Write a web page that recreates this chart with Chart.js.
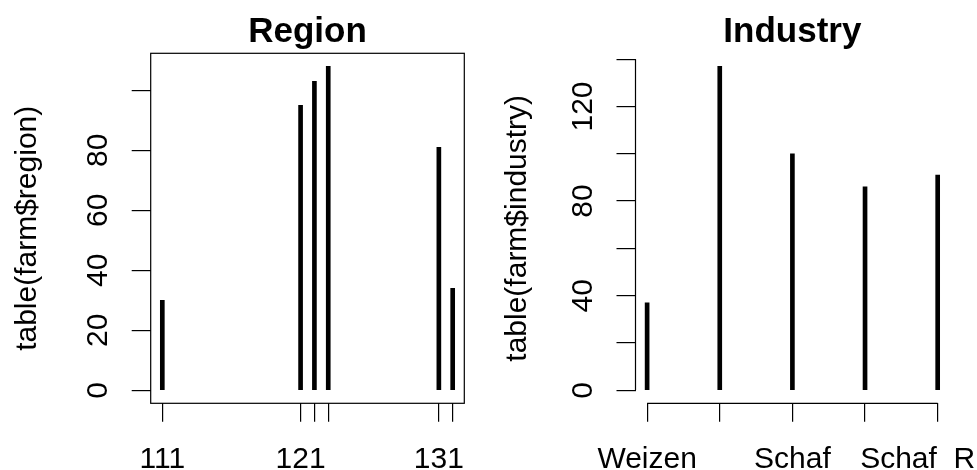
<!DOCTYPE html>
<html>
<head>
<meta charset="utf-8">
<script src="https://cdn.jsdelivr.net/npm/chart.js@4.4.0/dist/chart.umd.min.js"></script>
<style>
  html, body { margin: 0; padding: 0; background: #fff; overflow: hidden; }
  #wrap { position: relative; width: 977px; height: 470px; }
  .panel { position: absolute; top: 0; height: 470px; }
</style>
</head>
<body>
<div id="wrap">
  <div class="panel" style="left:0;width:489px"><canvas id="regionChart" width="489" height="470"></canvas></div>
  <div class="panel" style="left:489px;width:488px"><canvas id="industryChart" width="488" height="470"></canvas></div>
</div>
<script>
// left panel: counts per region code
const regionCodes = [111, 121, 122, 123, 131, 132];
const regionCounts = [30, 95, 103, 108, 81, 34];
const regionXLabels = ['111', '121', '', '', '131', ''];
const regionYTicks = [0, 20, 40, 60, 80, 100];
const regionYLabels = ['0', '20', '40', '60', '80', ''];

// right panel: counts per industry
const industryNames = ['Weizen', 'Gemischt', 'Schaf', 'Rind', 'Schaf  Rind'];
const industryCounts = [37, 137, 100, 86, 91];
const industryXLabels = ['Weizen', '', 'Schaf', '', 'Schaf  Rind'];
const industryYTicks = [0, 20, 40, 60, 80, 100, 120, 140];
const industryYLabels = ['0', '', '40', '', '80', '', '120', ''];

const FONT = '"Liberation Sans", Arial, Helvetica, sans-serif';

// R style axes: rotated y labels, titles, frame or short axis lines
const rStyle = {
  id: 'rStyle',
  afterDraw(chart, args, o) {
    const ctx = chart.ctx;
    const area = chart.chartArea;
    const xs = chart.scales.x;
    const ys = chart.scales.y;
    ctx.save();
    ctx.strokeStyle = '#000';
    ctx.fillStyle = '#000';
    ctx.lineWidth = 1.2;

    if (o.frame) {
      ctx.strokeRect(area.left, area.top, area.right - area.left, area.bottom - area.top);
    } else {
      ctx.beginPath();
      ctx.moveTo(area.left, ys.getPixelForValue(o.yTicks[0]));
      ctx.lineTo(area.left, ys.getPixelForValue(o.yTicks[o.yTicks.length - 1]));
      ctx.moveTo(xs.getPixelForValue(o.xPos[0]), area.bottom);
      ctx.lineTo(xs.getPixelForValue(o.xPos[o.xPos.length - 1]), area.bottom);
      ctx.stroke();
    }

    ctx.font = '30px ' + FONT;
    ctx.textAlign = 'center';
    ctx.textBaseline = 'alphabetic';
    o.xLabels.forEach((lab, i) => {
      if (lab) ctx.fillText(lab, xs.getPixelForValue(o.xPos[i]), 468);
    });

    o.yLabels.forEach((lab, i) => {
      if (!lab) return;
      ctx.save();
      ctx.translate(area.left - 44, ys.getPixelForValue(o.yTicks[i]));
      ctx.rotate(-Math.PI / 2);
      ctx.fillText(lab, 0, 0);
      ctx.restore();
    });

    ctx.save();
    ctx.translate(o.yTitleX, (area.top + area.bottom) / 2);
    ctx.rotate(-Math.PI / 2);
    ctx.fillText(o.yTitle, 0, 0);
    ctx.restore();

    ctx.font = 'bold 35px ' + FONT;
    ctx.fillText(o.title, (area.left + area.right) / 2, 41.7);
    ctx.restore();
  }
};

function rPlot(id, xPos, counts, o) {
  const xPad = (xPos[xPos.length - 1] - xPos[0]) * 0.04;
  const yMax = Math.max(...counts);
  const yPad = yMax * 0.04;
  return new Chart(document.getElementById(id), {
    type: 'bar',
    data: {
      datasets: [{
        data: xPos.map((x, i) => ({ x: x, y: counts[i] })),
        backgroundColor: '#000',
        barThickness: 4,
        borderWidth: 0
      }]
    },
    options: {
      responsive: false,
      animation: false,
      events: [],
      layout: { padding: { left: 0, top: o.top, right: o.right, bottom: 0 } },
      plugins: {
        legend: { display: false },
        tooltip: { enabled: false },
        rStyle: Object.assign({ xPos: xPos }, o)
      },
      scales: {
        x: {
          type: 'linear',
          offset: false,
          min: xPos[0] - xPad,
          max: xPos[xPos.length - 1] + xPad,
          afterBuildTicks: s => { s.ticks = xPos.map(v => ({ value: v })); },
          afterFit: s => { s.height = 470 - o.bottom; s.paddingLeft = 0; s.paddingRight = 0; },
          ticks: { display: false },
          grid: { offset: false, drawOnChartArea: false, tickLength: 18.5, color: '#000', lineWidth: 1.2 },
          border: { display: false }
        },
        y: {
          type: 'linear',
          min: -yPad,
          max: yMax + yPad,
          afterBuildTicks: s => { s.ticks = o.yTicks.map(v => ({ value: v })); },
          afterFit: s => { s.width = o.left; s.paddingTop = 0; s.paddingBottom = 0; },
          ticks: { display: false },
          grid: { drawOnChartArea: false, tickLength: 19, color: '#000', lineWidth: 1.2 },
          border: { display: false }
        }
      }
    },
    plugins: [rStyle]
  });
}

rPlot('regionChart', regionCodes, regionCounts, {
  title: 'Region',
  yTitle: 'table(farm$region)',
  xLabels: regionXLabels,
  yTicks: regionYTicks,
  yLabels: regionYLabels,
  frame: true,
  left: 150.7, right: 24.7, top: 53.3, bottom: 403.3,
  yTitleX: 36
});

rPlot('industryChart', industryNames.map((n, i) => i + 1), industryCounts, {
  title: 'Industry',
  yTitle: 'table(farm$industry)',
  xLabels: industryXLabels,
  yTicks: industryYTicks,
  yLabels: industryYLabels,
  frame: false,
  left: 146.5, right: 27.7, top: 53.3, bottom: 403.3,
  yTitleX: 37
});
</script>
</body>
</html>
